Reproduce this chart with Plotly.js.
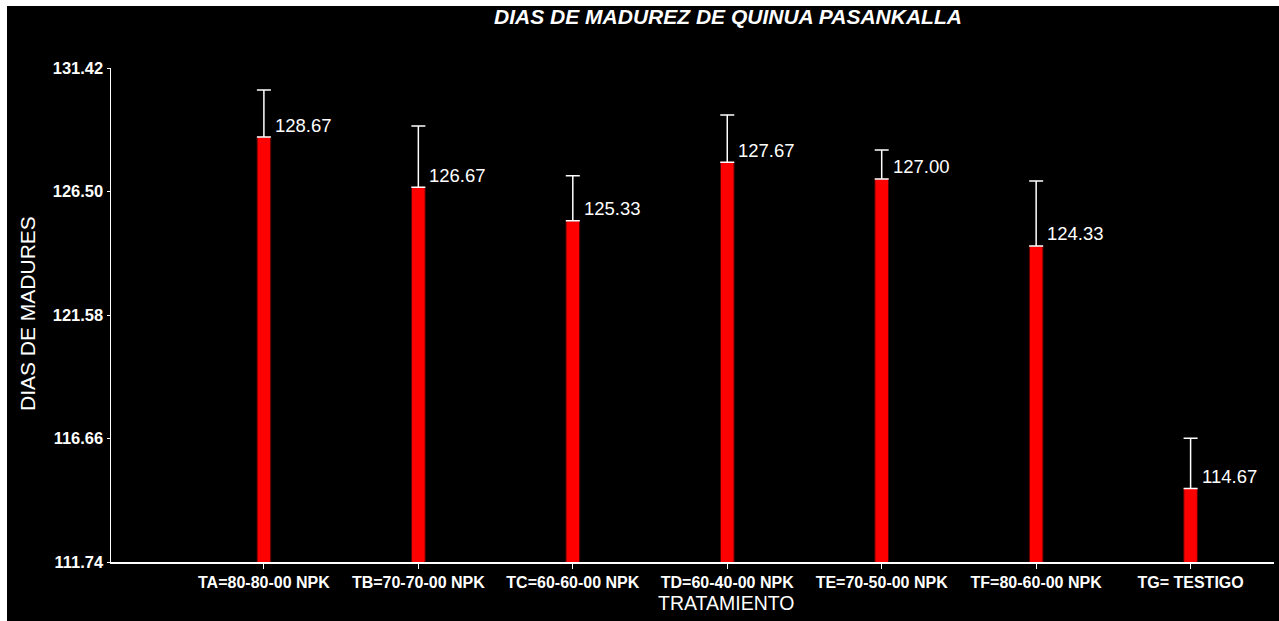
<!DOCTYPE html>
<html>
<head>
<meta charset="utf-8">
<script src="https://cdn.plot.ly/plotly-3.0.1.min.js"></script>
<style>
html,body{margin:0;padding:0;background:#000000;width:1279px;height:621px;overflow:hidden;}
#chart{position:absolute;left:7px;top:6px;width:1272px;height:615px;}
#topbar{position:absolute;left:0;top:0;width:1279px;height:6px;background:#ffffff;}
#leftbar{position:absolute;left:0;top:0;width:7px;height:621px;background:#ffffff;}
</style>
</head>
<body>
<div id="chart"></div>
<div id="topbar"></div>
<div id="leftbar"></div>
<script>
const categories = ["TA=80-80-00 NPK","TB=70-70-00 NPK","TC=60-60-00 NPK","TD=60-40-00 NPK","TE=70-50-00 NPK","TF=80-60-00 NPK","TG= TESTIGO"];
const means = [128.67, 126.67, 125.33, 127.67, 127.00, 124.33, 114.67];
const errors = [1.87, 2.44, 1.80, 1.88, 1.15, 2.59, 2.00];
const yTicks = [111.74, 116.66, 121.58, 126.50, 131.42];
const yTickText = ["111.74", "116.66", "121.58", "126.50", "131.42"];

const FONT = "Liberation Sans, Arial, sans-serif";

const trace = {
  type: "bar",
  x: categories,
  y: means,
  width: 0.088,
  marker: {color: "#ff0000", line: {color: "#5a0000", width: 1}},
  error_y: {
    type: "data",
    symmetric: false,
    array: errors,
    arrayminus: means.map(() => 0),
    color: "#ffffff",
    thickness: 1.5,
    width: 7
  },
  hoverinfo: "none"
};

const annotations = categories.map((c, i) => ({
  x: c, y: means[i], xref: "x", yref: "y",
  text: means[i].toFixed(2),
  showarrow: false,
  xanchor: "left", yanchor: "middle",
  xshift: 9, yshift: 12,
  font: {family: FONT, size: 18.5, color: "#ffffff"}
}));

annotations.push({
  xref: "paper", yref: "paper",
  x: (719 - 104) / 1163, y: (556 - 597) / 494,
  xanchor: "center", yanchor: "middle",
  text: "TRATAMIENTO", showarrow: false,
  font: {family: FONT, size: 19.5, color: "#ffffff"}
});
annotations.push({
  xref: "paper", yref: "paper",
  x: (20 - 104) / 1163, y: (556 - 308) / 494,
  xanchor: "center", yanchor: "middle",
  textangle: -90,
  text: "DIAS DE MADURES", showarrow: false,
  font: {family: FONT, size: 21, color: "#ffffff"}
});

const layout = {
  width: 1272, height: 615,
  paper_bgcolor: "#000000", plot_bgcolor: "#000000",
  margin: {l: 104, r: 5, t: 62, b: 59},
  showlegend: false,
  title: {
    text: "<b><i>DIAS DE MADUREZ DE QUINUA PASANKALLA</i></b>",
    font: {family: FONT, size: 21, color: "#ffffff"},
    xref: "container", yref: "container",
    x: 721 / 1272, y: 1 - 11 / 615,
    xanchor: "center", yanchor: "middle"
  },
  xaxis: {
    type: "category",
    range: [-0.99, 6.54],
    showgrid: false, zeroline: false,
    showline: true, linecolor: "#ffffff", linewidth: 1.5,
    ticks: "outside", ticklen: 5, tickcolor: "#ffffff", tickwidth: 1,
    tickfont: {family: FONT, size: 16, color: "#ffffff", weight: "bold"},
    fixedrange: true
  },
  yaxis: {
    range: [111.74, 131.42],
    tickvals: yTicks, ticktext: yTickText,
    showgrid: false, zeroline: false,
    showline: true, linecolor: "#ffffff", linewidth: 1.5,
    ticks: "outside", ticklen: 3, tickcolor: "#ffffff", tickwidth: 1,
    tickfont: {family: FONT, size: 16.5, color: "#ffffff", weight: "bold"},
    fixedrange: true
  },
  annotations: annotations
};

Plotly.newPlot("chart", [trace], layout, {displayModeBar: false, staticPlot: true});
</script>
</body>
</html>
